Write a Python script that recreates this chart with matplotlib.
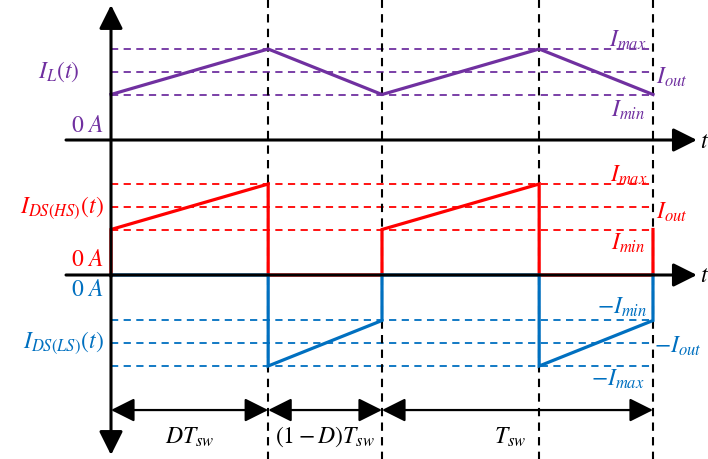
import numpy as np
import matplotlib
matplotlib.use("Agg")
import matplotlib.pyplot as plt

plt.rcParams['mathtext.fontset'] = 'stix'
plt.rcParams['font.family'] = ['STIXGeneral', 'DejaVu Serif']

# switching waveform data (time in units of T_sw, current in arbitrary units)
duty = 0.58
t_edges = [0.0, duty, 1.0, 1.0 + duty, 2.0]
i_min, i_out, i_max = 2.0, 3.0, 4.0
levels = [i_min, i_out, i_max]
span_labels = [r'$DT_{sw}$', r'$(1-D)T_{sw}$', r'$T_{sw}$']

PURPLE = '#7030A0'
RED = '#FF0000'
BLUE = '#0070C0'

# vertical layout: where each panel's zero sits (current units)
il_base = 0.0
sw_base = -5.934
dim_row = -11.87

W, H = 708, 459
fig = plt.figure(figsize=(W / 100, H / 100), dpi=100)
ax = fig.add_axes([0, 0, 1, 1])
ax.set_xlim(-0.4096, 2.203)
ax.set_ylim(-14.022, 6.154)
ax.axis('off')


def fpos(x, y):
    # figure-fraction position from pixel coordinates (text layout only)
    return x / W, 1 - y / H


# inductor current
il_t = t_edges
il_i = [il_base + (i_min if k % 2 == 0 else i_max) for k in range(len(t_edges))]

# high side switch current
hs_t, hs_i = [0.0], [0.0]
for start, mid, end in [(0.0, duty, 1.0), (1.0, 1.0 + duty, 2.0)]:
    hs_t += [start, mid, mid, end]
    hs_i += [i_min, i_max, 0.0, 0.0]
hs_t += [2.0]
hs_i += [i_min]
hs_i = [sw_base + v for v in hs_i]

# low side switch current
ls_t, ls_i = [0.0], [0.0]
for start, mid, end in [(0.0, duty, 1.0), (1.0, 1.0 + duty, 2.0)]:
    ls_t += [mid, mid, end, end]
    ls_i += [0.0, -i_max, -i_min, 0.0]
ls_i = [sw_base + v for v in ls_i]

dash_kw = dict(lw=1.3, ls=(0, (4, 3)))

# reference levels
for lv in levels:
    ax.plot([0, 2.0], [il_base + lv] * 2, color=PURPLE, **dash_kw)
    ax.plot([0, 2.0], [sw_base + lv] * 2, color=RED, **dash_kw)
    ax.plot([0, 2.0], [sw_base - lv] * 2, color=BLUE, **dash_kw)

# switching instants
for t in t_edges[1:]:
    ax.plot([t, t], [-14.2, 6.3], color='black', lw=1.5, ls=(0, (4, 3)))

# axes with arrows
arr = dict(arrowstyle='-|>,head_length=0.8,head_width=0.4', color='black',
           lw=2.2, mutation_scale=18, shrinkA=0, shrinkB=0)
for base in [il_base, sw_base]:
    ax.annotate('', xy=(2.162, base), xytext=(-0.166, base), arrowprops=arr)
ax.annotate('', xy=(0, 5.934), xytext=(0, -6.0), arrowprops=arr)
ax.annotate('', xy=(0, -13.846), xytext=(0, -6.0), arrowprops=arr)

# waveforms
ax.plot(il_t, il_i, color=PURPLE, lw=2.3, solid_joinstyle='miter')
ax.plot(hs_t, hs_i, color=RED, lw=2.3, solid_joinstyle='miter')
ax.plot(ls_t[:5], ls_i[:5], color=BLUE, lw=2.3, solid_joinstyle='miter')
ax.plot(ls_t[4:], ls_i[4:], color=BLUE, lw=2.3, solid_joinstyle='miter')

# dimension arrows
dim = dict(arrowstyle='<|-|>,head_length=0.8,head_width=0.4', color='black',
           lw=1.6, mutation_scale=18, shrinkA=0, shrinkB=0)
spans = [(t_edges[0], t_edges[1]), (t_edges[1], t_edges[2]), (t_edges[2], t_edges[4])]
label_x = [190, 325, 510]
fs = 17
for (a, b), lab, lx in zip(spans, span_labels, label_x):
    ax.annotate('', xy=(b, dim_row), xytext=(a, dim_row), arrowprops=dim)
    fig.text(*fpos(lx, 437), lab, fontsize=fs, ha='center', va='center')

# left labels
fig.text(*fpos(59, 72), r'$I_L(t)$', color=PURPLE, fontsize=fs, ha='center', va='center')
fig.text(*fpos(104, 126), r'$0\ A$', color=PURPLE, fontsize=fs, ha='right', va='center')
fig.text(*fpos(104, 208), r'$I_{DS(HS)}(t)$', color=RED, fontsize=fs, ha='right', va='center')
fig.text(*fpos(104, 260), r'$0\ A$', color=RED, fontsize=fs, ha='right', va='center')
fig.text(*fpos(104, 290), r'$0\ A$', color=BLUE, fontsize=fs, ha='right', va='center')
fig.text(*fpos(104, 343), r'$I_{DS(LS)}(t)$', color=BLUE, fontsize=fs, ha='right', va='center')

# right labels
right = [
    (647, 40, r'$I_{max}$', PURPLE, 'right'),
    (656, 77, r'$I_{out}$', PURPLE, 'left'),
    (645, 110, r'$I_{min}$', PURPLE, 'right'),
    (648, 175, r'$I_{max}$', RED, 'right'),
    (656, 212, r'$I_{out}$', RED, 'left'),
    (645, 243, r'$I_{min}$', RED, 'right'),
    (647, 307, r'$-I_{min}$', BLUE, 'right'),
    (654, 346, r'$-I_{out}$', BLUE, 'left'),
    (645, 379, r'$-I_{max}$', BLUE, 'right'),
]
for x, y, s, c, ha in right:
    fig.text(*fpos(x, y), s, color=c, fontsize=fs, ha=ha, va='center')

fig.text(*fpos(700, 142), r'$t$', fontsize=fs, ha='left', va='center')
fig.text(*fpos(700, 276), r'$t$', fontsize=fs, ha='left', va='center')

fig.savefig('out.png', dpi=100)
